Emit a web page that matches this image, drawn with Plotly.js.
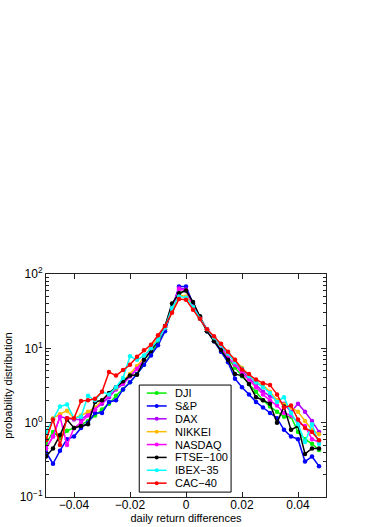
<!DOCTYPE html>
<html>
<head>
<meta charset="utf-8">
<script src="https://cdn.plot.ly/plotly-3.0.1.min.js"></script>
<style>html,body{margin:0;padding:0;background:#fff}</style>
</head>
<body>
<div id="plot" style="width:372px;height:527px"></div>
<script>
// bin centres of the daily return differences
let returnBins = [-0.05, -0.0475, -0.045, -0.0425, -0.04, -0.0375, -0.035, -0.0325, -0.03, -0.0275,
    -0.025, -0.0225, -0.02, -0.0175, -0.015, -0.0125, -0.01, -0.0075, -0.005, -0.0025,
    0, 0.0025, 0.005, 0.0075, 0.01, 0.0125, 0.015, 0.0175, 0.02, 0.0225,
    0.025, 0.0275, 0.03, 0.0325, 0.035, 0.0375, 0.04, 0.0425, 0.045, 0.0475];

let dji = [0.52, 0.75, 0.62, 0.78, 0.85, 0.95, 1.05, 1.25, 1.5, 1.8, 2.3, 2.8, 3.5, 4.5, 6.0, 8.5, 12, 18, 32, 55,
    60, 37, 25, 17, 13, 10, 7.5, 5.5, 4.2, 3.3, 2.6, 2.0, 1.65, 1.4, 1.2, 1.2, 0.75, 0.6, 0.52, 0.43];
let sp = [0.4, 0.28, 0.42, 0.6, 0.65, 0.85, 1.0, 1.35, 1.35, 1.9, 2.0, 2.8, 3.5, 4.5, 6.0, 8.0, 11, 17, 33, 68,
    68, 40, 26, 17, 12.5, 9.0, 6.5, 3.9, 3.0, 2.4, 1.9, 1.6, 1.35, 1.15, 0.8, 0.65, 0.6, 0.3, 0.35, 0.26];
let dax = [0.45, 0.65, 1.2, 1.15, 1.1, 1.1, 1.3, 1.5, 1.8, 2.2, 2.8, 3.3, 4.2, 5.3, 7.0, 9.5, 13, 19, 35, 65,
    62, 38, 25, 18, 14, 11, 8.5, 6.5, 5.0, 4.0, 3.2, 2.6, 2.3, 2.0, 1.8, 1.4, 1.8, 1.4, 1.05, 0.75];
let nikkei = [0.62, 1.15, 1.3, 1.45, 1.15, 1.25, 1.4, 1.6, 2.0, 2.4, 2.9, 3.6, 4.5, 5.8, 7.5, 10.5, 13.5, 19, 33, 52,
    50, 38, 26, 18, 14, 11, 8.8, 7.0, 5.5, 4.3, 3.5, 3.2, 2.6, 2.0, 1.75, 1.6, 1.4, 1.05, 0.8, 0.7];
let nasdaq = [0.45, 0.65, 1.2, 0.5, 0.85, 1.0, 1.25, 1.5, 1.9, 2.3, 3.0, 3.4, 4.2, 5.3, 7.0, 9.5, 13, 19, 35, 62,
    60, 38, 26, 18, 14, 10.5, 7.5, 6.0, 4.6, 3.8, 3.0, 2.4, 2.0, 1.7, 1.35, 1.25, 1.0, 0.9, 0.6, 0.55];
let ftse = [0.35, 0.45, 0.68, 1.1, 0.85, 0.9, 0.95, 1.9, 2.0, 2.5, 3.0, 3.6, 4.3, 4.4, 7.0, 9.2, 13, 20, 40, 55,
    60, 42, 27, 17, 12.5, 9.5, 7.0, 4.5, 4.3, 3.3, 2.2, 2.0, 1.8, 1.0, 1.65, 0.8, 0.9, 0.38, 0.45, 0.45];
let ibex = [0.75, 1.1, 1.65, 1.75, 1.15, 1.2, 2.3, 2.0, 2.6, 2.4, 3.0, 4.0, 7.8, 7.0, 8.0, 10, 13, 19, 35, 50,
    48, 36, 25, 18, 14, 11, 8.5, 6.5, 5.3, 4.2, 3.5, 3.0, 2.5, 1.9, 2.2, 1.35, 0.95, 0.55, 0.95, 0.52];
let cac = [0.58, 1.1, 0.5, 1.15, 1.15, 1.95, 2.0, 2.1, 2.6, 4.8, 4.3, 5.1, 6.0, 7.7, 9.4, 11.2, 15, 20, 30, 46,
    45, 33, 25, 18, 14.5, 11.5, 9.0, 7.0, 5.2, 4.5, 3.8, 3.4, 3.2, 2.4, 1.6, 1.7, 1.1, 0.85, 0.75, 0.58];

let indexNames = ['DJI', 'S&P', 'DAX', 'NIKKEI', 'NASDAQ', 'FTSE\u2212100', 'IBEX\u221235', 'CAC\u221240'];
let indexColors = ['#00f000', '#0000ff', '#b000ff', '#ffbb00', '#ff00ff', '#000000', '#00ffff', '#ff0000'];
let allSeries = [dji, sp, dax, nikkei, nasdaq, ftse, ibex, cac];

let yTickVals = [0.1, 1, 10, 100];
let yTickText = ['10<sup>\u22121</sup>', '10<sup>0</sup>', '10<sup>1</sup>', '10<sup>2</sup>'];
let xTickVals = [-0.04, -0.02, 0, 0.02, 0.04];

document.addEventListener("DOMContentLoaded", function () {
    let font = 'Liberation Sans, Arial, sans-serif';

    let traces = allSeries.map((ys, i) => ({
        x: returnBins,
        y: ys,
        type: 'scatter',
        mode: 'lines+markers',
        name: indexNames[i],
        line: { color: indexColors[i], width: 1.5 },
        marker: { color: indexColors[i], size: 4.5 },
        hoverinfo: 'skip',
        showlegend: false
    }));

    // hand-made legend box, plotly's own rows are too tall for this one
    let shapes = [{
        type: 'rect', xref: 'paper', yref: 'paper',
        x0: 0.333, x1: 0.661, y0: 0.022, y1: 0.502,
        line: { color: '#000', width: 1 }, fillcolor: '#fff', layer: 'above'
    }];
    let annotations = [];
    indexNames.forEach((name, i) => {
        let yc = 0.466 - i * 0.0577;
        shapes.push({
            type: 'line', xref: 'paper', yref: 'paper',
            x0: 0.36, x1: 0.431, y0: yc, y1: yc,
            line: { color: indexColors[i], width: 1.5 }, layer: 'above'
        });
        shapes.push({
            type: 'circle', xref: 'paper', yref: 'paper',
            x0: 0.3955 - 0.007, x1: 0.3955 + 0.007, y0: yc - 0.009, y1: yc + 0.009,
            line: { color: indexColors[i], width: 0 }, fillcolor: indexColors[i], layer: 'above'
        });
        annotations.push({
            xref: 'paper', yref: 'paper', x: 0.452, y: yc,
            xanchor: 'left', yanchor: 'middle', showarrow: false,
            text: name, font: { family: font, size: 11, color: '#000' }
        });
    });

    let layout = {
        width: 372,
        height: 527,
        margin: { l: 46, r: 46, t: 274, b: 30, pad: 0 },
        paper_bgcolor: '#fff',
        plot_bgcolor: '#fff',
        showlegend: false,
        font: { family: font, size: 12, color: '#000' },
        xaxis: {
            range: [-0.05, 0.05],
            tickmode: 'array',
            tickvals: xTickVals,
            ticks: 'inside',
            ticklen: 5,
            tickcolor: '#222',
            showline: true,
            linecolor: '#222',
            mirror: 'ticks',
            showgrid: false,
            zeroline: false,
            tickfont: { size: 12 },
            ticklabelstandoff: -3,
            title: { text: 'daily return differences', font: { size: 11 }, standoff: 0 }
        },
        yaxis: {
            type: 'log',
            range: [-1, 2],
            tickmode: 'array',
            tickvals: yTickVals,
            ticktext: yTickText,
            ticks: 'inside',
            ticklen: 5,
            tickcolor: '#222',
            showline: true,
            linecolor: '#222',
            mirror: 'ticks',
            showgrid: false,
            zeroline: false,
            tickfont: { size: 12 },
            minor: { ticks: 'inside', ticklen: 3, dtick: 'D1', tickcolor: '#222', showgrid: false },
            title: { text: 'probability distribution', font: { size: 11 }, standoff: 4 }
        },
        shapes: shapes,
        annotations: annotations
    };

    Plotly.newPlot('plot', traces, layout, { displayModeBar: false });
});
</script>
</body>
</html>
